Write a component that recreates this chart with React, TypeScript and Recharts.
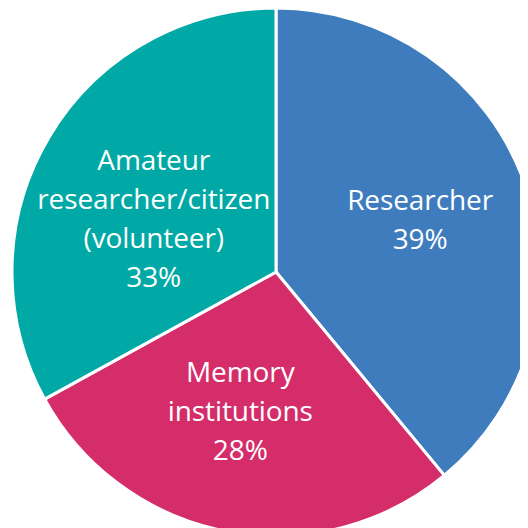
import React from "react";
import { PieChart, Pie, Cell } from "recharts";

const categories = ["Researcher", "Memory institutions", "Amateur researcher/citizen (volunteer)"];
const values = [39, 28, 33];
const labelLines = [["Researcher", "39%"], ["Memory", "institutions", "28%"], ["Amateur", "researcher/citizen", "(volunteer)", "33%"]];
const colors = ["#3E7CBD", "#D42D69", "#00A9A5"];
// small label placement nudges (style only)
const labelNudge = [[5, -3], [-8, -7], [5, 21]];

const data = categories.map((name, i) => ({ name, value: values[i] }));

const RAD = Math.PI / 180;

const renderLabel = (props: any) => {
  const { cx, cy, midAngle, outerRadius, index } = props;
  const r = outerRadius * 0.56;
  const x = cx + r * Math.cos(-midAngle * RAD) + labelNudge[index][0];
  const y = cy + r * Math.sin(-midAngle * RAD) + labelNudge[index][1];
  const lines = labelLines[index];
  const lh = 39;
  const y0 = y - ((lines.length - 1) * lh) / 2;
  return (
    <text
      x={x}
      y={y0}
      fill="#fff"
      textAnchor="middle"
      dominantBaseline="central"
      fontFamily="'Open Sans', sans-serif"
      fontSize={28}
      letterSpacing={-0.1}
    >
      {lines.map((l, i) => (
        <tspan key={i} x={x} y={y0 + i * lh}>
          {l}
        </tspan>
      ))}
    </text>
  );
};

export default function App() {
  return (
    <PieChart width={520} height={520} margin={{ top: 0, right: 0, bottom: 0, left: 0 }}>
      <Pie
        data={data}
        dataKey="value"
        nameKey="name"
        cx={268}
        cy={264}
        outerRadius={264}
        startAngle={90}
        endAngle={-270}
        stroke="#fff"
        strokeWidth={3}
        label={renderLabel}
        labelLine={false}
        isAnimationActive={false}
      >
        {data.map((d, i) => (
          <Cell key={d.name} fill={colors[i]} />
        ))}
      </Pie>
    </PieChart>
  );
}
